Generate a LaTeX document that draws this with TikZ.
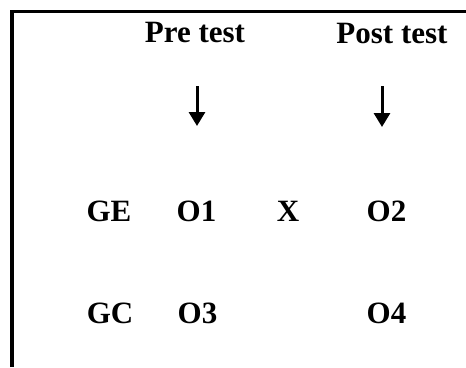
\documentclass[tikz,border=0pt]{standalone}
\usepackage{fontspec}
\setmainfont{Liberation Serif}
\usetikzlibrary{arrows.meta}
\begin{document}
\begin{tikzpicture}[x=1pt,y=-1pt,
  lbl/.style={inner sep=0pt,anchor=base,font=\fontsize{31}{36}\selectfont\bfseries},
  frame/.style={line width=3.5pt},
  downarrow/.style={line width=3pt,-{Triangle[width=16pt,length=14pt]}}]
\useasboundingbox (0,0) rectangle (466,367);
\coordinate (tl) at (12,11.5);
\coordinate (bl) at (12,367);
\coordinate (tr) at (466,11.5);
\draw[frame] (bl) -- (tl) -- (tr);
\node[lbl] (pre) at (195,42) {Pre test};
\node[lbl] (post) at (392,43) {Post test};
\coordinate (a1s) at (197,86);
\coordinate (a1e) at (197,126);
\coordinate (a2s) at (382,86);
\coordinate (a2e) at (382,127);
\draw[downarrow] (a1s) -- (a1e);
\draw[downarrow] (a2s) -- (a2e);
\node[lbl] (ge) at (109,221) {GE};
\node[lbl] (o1) at (196.5,221) {O1};
\node[lbl] (x) at (288,221) {X};
\node[lbl] (o2) at (386.5,221) {O2};
\node[lbl] (gc) at (110,323) {GC};
\node[lbl] (o3) at (197.5,323) {O3};
\node[lbl] (o4) at (386.5,323) {O4};
\end{tikzpicture}
\end{document}
